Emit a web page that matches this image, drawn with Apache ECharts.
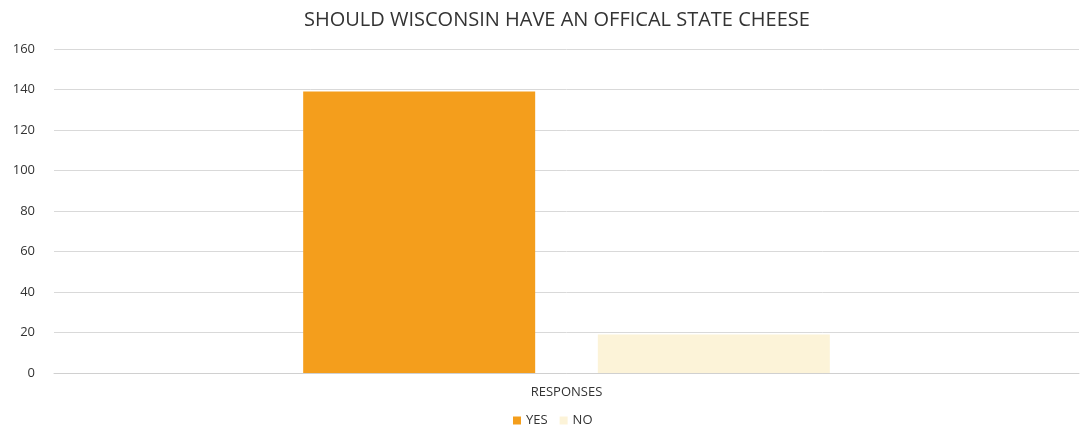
<!DOCTYPE html>
<html>
<head>
<meta charset="utf-8">
<script src="https://cdn.jsdelivr.net/npm/echarts@6/dist/echarts.min.js"></script>
<style>
  html, body { margin: 0; padding: 0; background: #fff; }
  #chart { width: 1081px; height: 437px; }
</style>
</head>
<body>
<div id="chart"></div>
<script>
const categories = ['RESPONSES'];
const yesValues = [139];
const noValues = [19];
const seriesNames = ['YES', 'NO'];

const chart = echarts.init(document.getElementById('chart'));
const font = '"Open Sans", "Liberation Sans", sans-serif';

chart.setOption({
    animation: false,
    textStyle: { fontFamily: font },
    title: {
        text: 'SHOULD WISCONSIN HAVE AN OFFICAL STATE CHEESE',
        left: 299,
        top: 5,
        textStyle: { color: '#333', fontSize: 20, fontWeight: 'normal', fontFamily: font }
    },
    legend: {
        data: seriesNames,
        bottom: 5,
        left: 508,
        itemWidth: 8,
        itemHeight: 8,
        itemGap: 12,
        icon: 'rect',
        textStyle: { color: '#333', fontSize: 13, fontFamily: font }
    },
    grid: { left: 54, right: 2, top: 49, bottom: 64 },
    xAxis: {
        type: 'category',
        data: categories,
        axisLine: { lineStyle: { color: '#d0d0d0' } },
        axisTick: { show: false },
        axisLabel: { color: '#333', fontSize: 13, margin: 13, fontFamily: font }
    },
    yAxis: {
        type: 'value',
        min: 0,
        max: 160,
        interval: 20,
        axisLine: { show: false },
        axisTick: { show: false },
        axisLabel: { color: '#333', fontSize: 13, margin: 19, fontFamily: font },
        splitLine: { lineStyle: { color: '#d9d9d9' } }
    },
    series: [
        {
            name: 'YES',
            type: 'bar',
            data: yesValues,
            barWidth: 232,
            barGap: '27%',
            itemStyle: { color: '#F49E1C' }
        },
        {
            name: 'NO',
            type: 'bar',
            data: noValues,
            barWidth: 232,
            itemStyle: { color: '#FCF3D8' }
        }
    ]
});
</script>
</body>
</html>
